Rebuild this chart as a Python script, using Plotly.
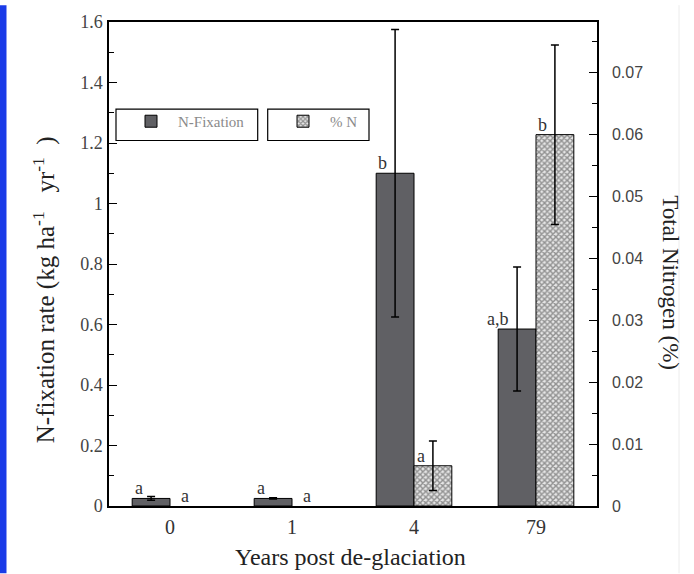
import plotly.graph_objects as go

# ---- data ----
years = ["0", "1", "4", "79"]
nfix = [0.025, 0.025, 1.10, 0.585]            # kg ha-1 yr-1
nfix_err = [0.006, 0.002, 0.475, 0.205]
nfix_letters = ["a", "a", "b", "a,b"]
pct_n = [0.0, 0.0, 0.0065, 0.060]             # total nitrogen, %
pct_n_err = [0.0, 0.0, 0.004, 0.0145]
pct_n_letters = ["a", "a", "a", "b"]

left_ticks = [0, 0.2, 0.4, 0.6, 0.8, 1, 1.2, 1.4, 1.6]
right_ticks = [0, 0.01, 0.02, 0.03, 0.04, 0.05, 0.06, 0.07]

# ---- layout geometry (pixels) ----
W, H = 694, 574
L, R, T, B = 109, 97, 17, 68
PW, PH = W - L - R, H - T - B


def px(x):
    return (x - L) / PW


def py(y):
    return (H - B - y) / PH


SERIF = "Liberation Serif"
SANS = "Liberation Sans"
BAR_W = 0.31
xs = list(range(len(years)))

fig = go.Figure()

fig.add_trace(go.Bar(
    x=xs, y=nfix, name="N-Fixation", yaxis="y", legend="legend",
    width=BAR_W, offset=-BAR_W,
    marker=dict(color="#606064", line=dict(color="black", width=1)),
    error_y=dict(type="data", array=nfix_err, color="black", thickness=1.5, width=4),
))

# zero values have nothing to draw (no bar, no error bar)
pct_bar = [v if v > 0 else None for v in pct_n]
fig.add_trace(go.Bar(
    x=xs, y=pct_bar, name="% N", yaxis="y2", legend="legend2",
    width=BAR_W, offset=0,
    marker=dict(color="#e6e6e6", line=dict(color="black", width=1),
                pattern=dict(shape="x", size=4, solidity=0.6,
                             fgcolor="#3c3c3c", bgcolor="#e6e6e6")),
    error_y=dict(type="data", array=pct_n_err, color="black", thickness=1.5, width=4),
))


def letter(x, y, yref, text, value):
    # letters sit left of the error bar; with no bar they are centred
    if value > 0:
        anchor, shift = "right", -6
    else:
        anchor, shift = "center", -4
    return dict(x=x, y=y, xref="x", yref=yref, text=text,
                xanchor=anchor, yanchor="middle", xshift=shift, yshift=10,
                showarrow=False, font=dict(family=SERIF, size=18, color="#333333"))


annotations = []
for i in xs:
    annotations.append(letter(i - BAR_W / 2, nfix[i], "y", nfix_letters[i], nfix[i]))
    annotations.append(letter(i + BAR_W / 2, pct_n[i], "y2", pct_n_letters[i], pct_n[i]))

# axis titles
annotations.append(dict(
    x=px(350), y=py(558), xref="paper", yref="paper", text="Years post de-glaciation",
    showarrow=False, xanchor="center", yanchor="middle",
    font=dict(family=SERIF, size=24, color="#222222")))
annotations.append(dict(
    x=px(44), y=py(288), xref="paper", yref="paper",
    text="N-fixation rate (kg ha<sup>-1</sup>\u00a0\u00a0\u00a0yr<sup>-1</sup>\u00a0\u00a0)",
    showarrow=False, xanchor="center", yanchor="middle", textangle=-90,
    font=dict(family=SERIF, size=25, color="#222222")))
annotations.append(dict(
    x=px(671), y=py(280), xref="paper", yref="paper", text="Total Nitrogen (%)",
    showarrow=False, xanchor="center", yanchor="middle", textangle=90,
    font=dict(family=SERIF, size=23, color="#222222")))

shapes = [
    # blue band along the left edge
    dict(type="rect", xref="paper", yref="paper", x0=px(0), x1=px(6.5), y0=py(H), y1=py(0),
         fillcolor="#1a3be8", line=dict(width=0), layer="below"),
    # faint rule along the right edge
    dict(type="line", xref="paper", yref="paper", x0=px(679), x1=px(679), y0=py(H), y1=py(0),
         line=dict(color="#ececec", width=1), layer="below"),
    # legend frames
    dict(type="rect", xref="paper", yref="paper", x0=px(116), x1=px(257.7), y0=py(136.7), y1=py(105),
         line=dict(color="black", width=1.2), fillcolor="rgba(0,0,0,0)"),
    dict(type="rect", xref="paper", yref="paper", x0=px(267.7), x1=px(369), y0=py(136.7), y1=py(105),
         line=dict(color="black", width=1.2), fillcolor="rgba(0,0,0,0)"),
]

legend_style = dict(bgcolor="rgba(0,0,0,0)", borderwidth=0, itemwidth=44,
                    xanchor="left", yanchor="middle",
                    font=dict(family=SERIF, size=15, color="#8a8a8a"))

fig.update_layout(
    width=W, height=H,
    margin=dict(l=L, r=R, t=T, b=B, pad=0),
    paper_bgcolor="white", plot_bgcolor="white",
    showlegend=True,
    legend=dict(x=px(124), y=py(117.5), **legend_style),
    legend2=dict(x=px(276), y=py(117.5), **legend_style),
    xaxis=dict(
        range=[-0.5, 3.5], tickmode="array", tickvals=xs, ticktext=years,
        showline=True, linecolor="black", linewidth=1.5, mirror=True,
        ticks="", showgrid=False, zeroline=False, ticklabelstandoff=2,
        tickfont=dict(family=SERIF, size=20, color="#333333"),
    ),
    yaxis=dict(
        range=[0, 1.6], tickmode="array", tickvals=left_ticks,
        ticktext=[f"{v:g}" for v in left_ticks],
        showline=True, linecolor="black", linewidth=1.5,
        ticks="inside", ticklen=8, tickwidth=1.2, tickcolor="black",
        minor=dict(ticks="inside", dtick=0.1, ticklen=5, tickwidth=1.2, tickcolor="black"),
        showgrid=False, zeroline=False, ticklabelstandoff=1,
        tickfont=dict(family=SERIF, size=18, color="#444444"),
    ),
    yaxis2=dict(
        range=[0, 0.0782], overlaying="y", side="right", tickmode="array",
        tickvals=right_ticks, ticktext=[f"{v:g}" for v in right_ticks],
        showline=True, linecolor="black", linewidth=1.5,
        ticks="inside", ticklen=8, tickwidth=1.2, tickcolor="black",
        minor=dict(ticks="inside", dtick=0.005, ticklen=5, tickwidth=1.2, tickcolor="black"),
        showgrid=False, zeroline=False, ticklabelstandoff=10,
        tickfont=dict(family=SANS, size=16, color="#444444"),
    ),
    annotations=annotations,
    shapes=shapes,
)

fig.write_html("out.html")
